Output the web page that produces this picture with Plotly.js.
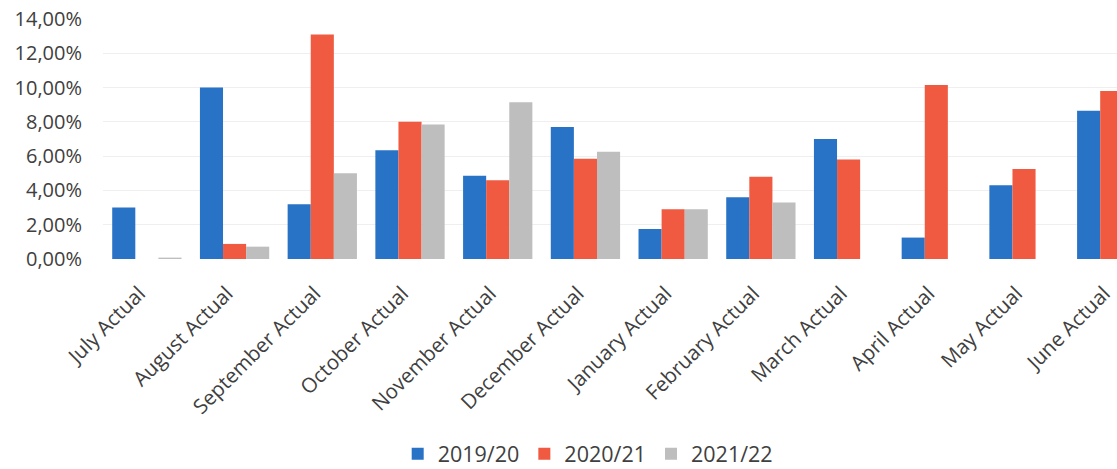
<!DOCTYPE html>
<html>
<head>
<meta charset="utf-8">
<script src="https://cdn.plot.ly/plotly-3.0.1.min.js"></script>
<style>html,body{margin:0;padding:0;background:#fff;}#chart{width:1117px;height:469px;}</style>
</head>
<body>
<div id="chart"></div>
<script>
const categories = ["July Actual","August Actual","September Actual","October Actual","November Actual","December Actual","January Actual","February Actual","March Actual","April Actual","May Actual","June Actual"];
const seriesNames = ["2019/20","2020/21","2021/22"];
const s2019 = [3.0, 10.0, 3.2, 6.35, 4.85, 7.7, 1.75, 3.6, 7.0, 1.25, 4.3, 8.65];
const s2020 = [null, 0.88, 13.1, 8.0, 4.6, 5.85, 2.9, 4.8, 5.8, 10.15, 5.25, 9.8];
const s2021 = [0.08, 0.72, 5.0, 7.85, 9.15, 6.25, 2.9, 3.3, null, null, null, null];
const yTicks = [0, 2, 4, 6, 8, 10, 12, 14];
const yTickText = ["0,00%", "2,00%", "4,00%", "6,00%", "8,00%", "10,00%", "12,00%", "14,00%"];
const colors = ["#2873C6", "#EF5A41", "#BEBEBE"];

const font = "'Open Sans', 'Noto Sans', sans-serif";
const traces = [s2019, s2020, s2021].map((vals, i) => ({
  type: "bar",
  name: seriesNames[i],
  x: categories,
  y: vals,
  marker: {color: colors[i]}
}));

const layout = {
  width: 1117, height: 469,
  margin: {l: 103, r: 0, t: 19, b: 210, autoexpand: false},
  paper_bgcolor: "#fff", plot_bgcolor: "#fff",
  barmode: "group",
  bargap: 0.21,
  bargroupgap: 0,
  font: {family: font, size: 20, color: "#404040"},
  xaxis: {
    type: "category",
    range: [-0.5, 11.06],
    automargin: false,
    tickangle: -45,
    tickvals: categories,
    ticktext: categories.map(c => c + "\u00a0\u00a0"),
    showgrid: false,
    showline: false,
    zeroline: false,
    ticks: "",
    ticklabelstandoff: 10,
    tickfont: {family: font, size: 20.5, color: "#404040"}
  },
  yaxis: {
    range: [0, 14],
    automargin: false,
    tickvals: yTicks,
    ticktext: yTickText,
    showgrid: true,
    gridcolor: "#EFEFEF",
    gridwidth: 1,
    zeroline: false,
    showline: false,
    ticks: "",
    ticklabelstandoff: 20,
    tickfont: {family: font, size: 20, color: "#404040"}
  },
  showlegend: true,
  legend: {
    orientation: "h",
    x: 0.478, xanchor: "center",
    y: -0.812, yanchor: "middle",
    font: {family: font, size: 21.5, color: "#404040"},
    itemwidth: 30,
    traceorder: "normal"
  }
};

Plotly.newPlot("chart", traces, layout, {staticPlot: true, displayModeBar: false});
</script>
</body>
</html>
